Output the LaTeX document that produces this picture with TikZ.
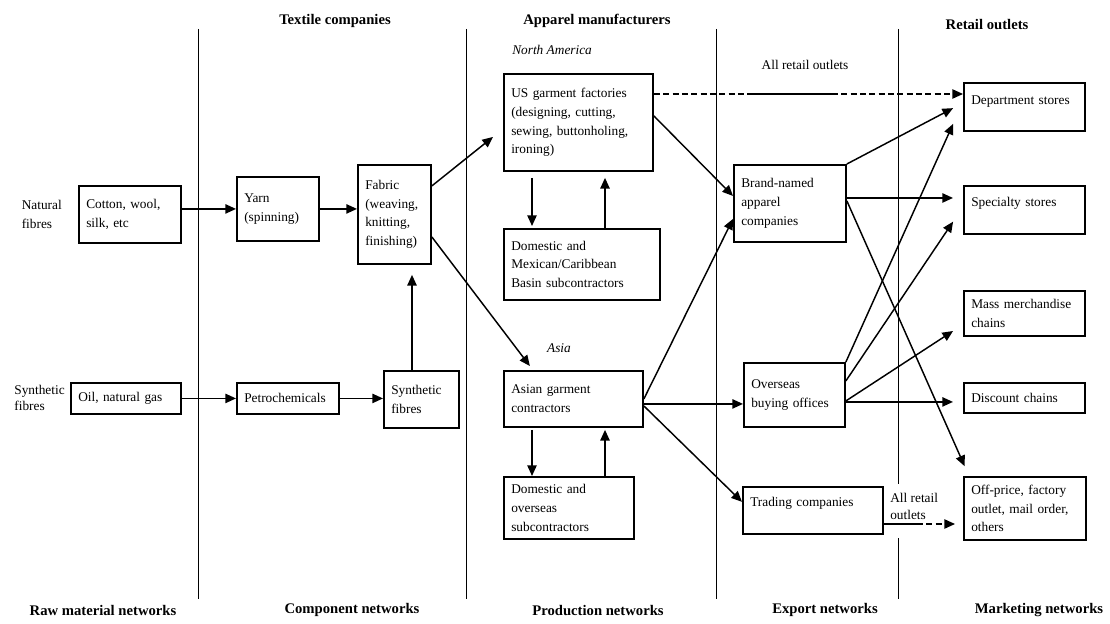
\documentclass[tikz,border=0pt]{standalone}
\usepackage{fontspec}
\setmainfont{Liberation Serif}
\usepackage{tikz}
\usetikzlibrary{positioning, arrows.meta}
\tikzstyle{arrow} = [line width=1.1pt,->,>={Triangle[length=8pt,width=7pt]}]
\tikzstyle{dashedarrow} = [arrow, dash pattern=on 4.5pt off 2.5pt]
\tikzstyle{heading} = [font=\fontsize{11}{13}\selectfont\bfseries, inner sep=0pt]
\tikzstyle{note} = [font=\fontsize{10}{14}\selectfont, align=left, inner sep=0pt]

\begin{document}
\begin{tikzpicture}[x=0.75pt, y=-0.75pt,
unitbox/.style={rectangle, draw=black, line width=1.4pt, anchor=north west, align=left, inner xsep=5.5pt, inner ysep=3pt, font=\fontsize{10}{14}\selectfont},
divider/.style={line width=1.3pt}
]
\useasboundingbox (0,0) rectangle (1110,624);

% column dividers
\draw[divider] (198.5,29) -- (198.5,599);
\draw[divider] (466.5,29) -- (466.5,599);
\draw[divider] (716.5,29) -- (716.5,599);
\draw[divider] (898.5,29) -- (898.5,484);
\draw[divider] (898.5,538) -- (898.5,599);

\node[heading] (hTextile) at (335,21) {Textile companies};
\node[heading] (hApparel) at (597,21) {Apparel manufacturers};
\node[heading] (hRetail) at (987,25) {Retail outlets};

\node[heading] (fRaw) at (103,610) {Raw material networks};
\node[heading] (fComp) at (352,610) {Component networks};
\node[heading] (fProd) at (598,610) {Production networks};
\node[heading] (fExport) at (825,610) {Export networks};
\node[heading] (fMarket) at (1039,610) {Marketing networks};

% raw material and components
\node[unitbox, text width=65.5pt, minimum height=42.75pt] (cotton) at (78,185) {Cotton, wool,\\silk, etc};
\node[note, left=12pt of cotton] (natural) {Natural\\fibres};
\node[unitbox, text width=50.5pt, minimum height=48pt] (yarn) at (236,176) {Yarn\\(spinning)};
\node[unitbox, text width=43.75pt, minimum height=74.25pt] (fabric) at (357,164) {Fabric\\(weaving,\\knitting,\\finishing)};
\node[unitbox, text width=71.5pt, minimum height=23.25pt] (oil) at (70,382) {Oil, natural gas};
\node[note, font=\fontsize{10}{12}\selectfont, left=3.75pt of oil] (synthetic) {Synthetic\\fibres};
\node[unitbox, text width=65.5pt, minimum height=23.25pt] (petro) at (236,382) {Petrochemicals};
\node[unitbox, text width=45.25pt, minimum height=42.75pt] (synth) at (383,370) {Synthetic\\fibres};

% apparel manufacturers
\node[note, anchor=west, font=\fontsize{10}{14}\selectfont\itshape] (na) at (512,50) {North America};
\node[unitbox, text width=100.75pt, minimum height=72.75pt] (us) at (503,73) {US garment factories\\(designing, cutting,\\sewing, buttonholing,\\ironing)};
\node[unitbox, text width=106pt, minimum height=53.25pt] (dommex) at (503,228) {Domestic and\\Mexican/Caribbean\\Basin subcontractors};
\node[note, font=\fontsize{10}{14}\selectfont\itshape] (asia) at (559,348) {Asia};
\node[unitbox, text width=93.25pt, minimum height=42pt] (asian) at (503,370) {Asian garment\\contractors};
\node[unitbox, text width=86.5pt, minimum height=46.5pt] (domover) at (503,476) {Domestic and\\overseas\\subcontractors};

% export
\node[note] (allTop) at (805,65) {All retail outlets};
\node[unitbox, text width=73pt, minimum height=57.75pt] (brand) at (733,164) {Brand-named\\apparel\\companies};
\node[unitbox, text width=64.75pt, minimum height=48pt] (ov) at (743,362) {Overseas\\buying offices};
\node[unitbox, text width=94pt, text height=11.6pt, text depth=17.6pt] (trading) at (742,486) {Trading companies};
\node[note, anchor=west, font=\fontsize{10}{12.75}\selectfont] (allBot) at (890,506.5) {All retail\\outlets};

% retail
\node[unitbox, text width=79.75pt, text height=13.1pt, text depth=16.9pt] (dept) at (963,82) {Department stores};
\node[unitbox, text width=79.75pt, text height=12.4pt, text depth=17.6pt] (spec) at (963,185) {Specialty stores};
\node[unitbox, text width=79.75pt, minimum height=33.75pt] (mass) at (963,290) {Mass merchandise\\chains};
\node[unitbox, text width=79.75pt, minimum height=22.5pt] (disc) at (963,382) {Discount chains};
\node[unitbox, text width=80.5pt, minimum height=47.25pt] (offp) at (963,476) {Off-price, factory\\outlet, mail order,\\others};

% textile flows
\draw[arrow] (cotton.east |- yarn.west) -- (yarn.west);
\draw[arrow] (yarn.east) -- (yarn.east -| fabric.west);
\draw[arrow] (oil) -- (petro);
\draw[arrow] (petro.east) -- (petro.east -| synth.west);
\draw[arrow, shorten >=7.5pt] ([xshift=21.75pt]synth.north west) -- ([xshift=21.75pt]synth.north west |- fabric.south);

% fabric to garment makers
\draw[arrow, shorten >=9.6pt] ([yshift=21.4pt]fabric.east) -- ([yshift=-4.9pt]us.west);
\draw[arrow, shorten >=3.75pt] ([yshift=-16.9pt]fabric.east) -- ([xshift=-30.4pt]asian.north);
\draw[arrow, shorten <=4.5pt, shorten >=1.5pt] ([xshift=21.75pt]us.south west) -- ([xshift=21.75pt]us.south west |- dommex.north);
\draw[arrow, shorten >=4.5pt] ([xshift=76.5pt]dommex.north west) -- ([xshift=76.5pt]dommex.north west |- us.south);
\draw[arrow, shorten <=1.5pt] ([xshift=21.75pt]asian.south west) -- ([xshift=21.75pt]asian.south west |- domover.north);
\draw[arrow, shorten >=1.5pt] ([xshift=76.5pt]domover.north west) -- ([xshift=76.5pt]domover.north west |- asian.south);

% garment makers to exporters
\draw[arrow] ([yshift=4.9pt]us.east) -- ([yshift=5.6pt]brand.west);
\draw[arrow] (asian.east) -- ([yshift=-11.6pt]brand.west);
\draw[arrow] ([yshift=-3.75pt]asian.east) -- ([yshift=-3.75pt]asian.east -| ov.west);
\draw[arrow] ([yshift=-5.25pt]asian.east) -- ([yshift=6.4pt]trading.west);

% all retail outlets, direct
\coordinate (gapA) at (748,94);
\coordinate (gapB) at (832,94);
\draw[dashedarrow, -] (us.east |- gapA) -- (gapA);
\draw[line width=1.1pt] (gapA) -- (gapB);
\draw[dashedarrow] (gapB) -- (gapB -| dept.west);

% exporters to retail
\draw[arrow, shorten >=8.4pt] (brand.north east) -- ([yshift=3pt]dept.west);
\draw[arrow, shorten >=7.5pt] ([yshift=4.1pt]brand.east) -- ([yshift=4.1pt]brand.east -| spec.west);
\draw[arrow, shorten >=8pt] ([yshift=1.9pt]brand.east) -- ([xshift=4.5pt]offp.north west);
\draw[arrow, shorten >=18pt] (ov.north east) -- ([yshift=3.75pt]dept.west);
\draw[arrow, shorten >=13.3pt] ([yshift=10.5pt]ov.east) -- ([yshift=2.25pt]spec.west);
\draw[arrow, shorten >=8.9pt] ([yshift=-4.5pt]ov.east) -- ([yshift=-8.3pt]mass.west);
\draw[arrow, shorten >=7.5pt] ([yshift=-5.25pt]ov.east) -- ([yshift=-5.25pt]ov.east -| disc.west);
\coordinate (gapC) at (917,524);
\draw[line width=1.1pt] (trading.east |- gapC) -- (gapC);
\draw[dashedarrow, shorten >=6pt] (gapC) -- (gapC -| offp.west);
\end{tikzpicture}
\end{document}
